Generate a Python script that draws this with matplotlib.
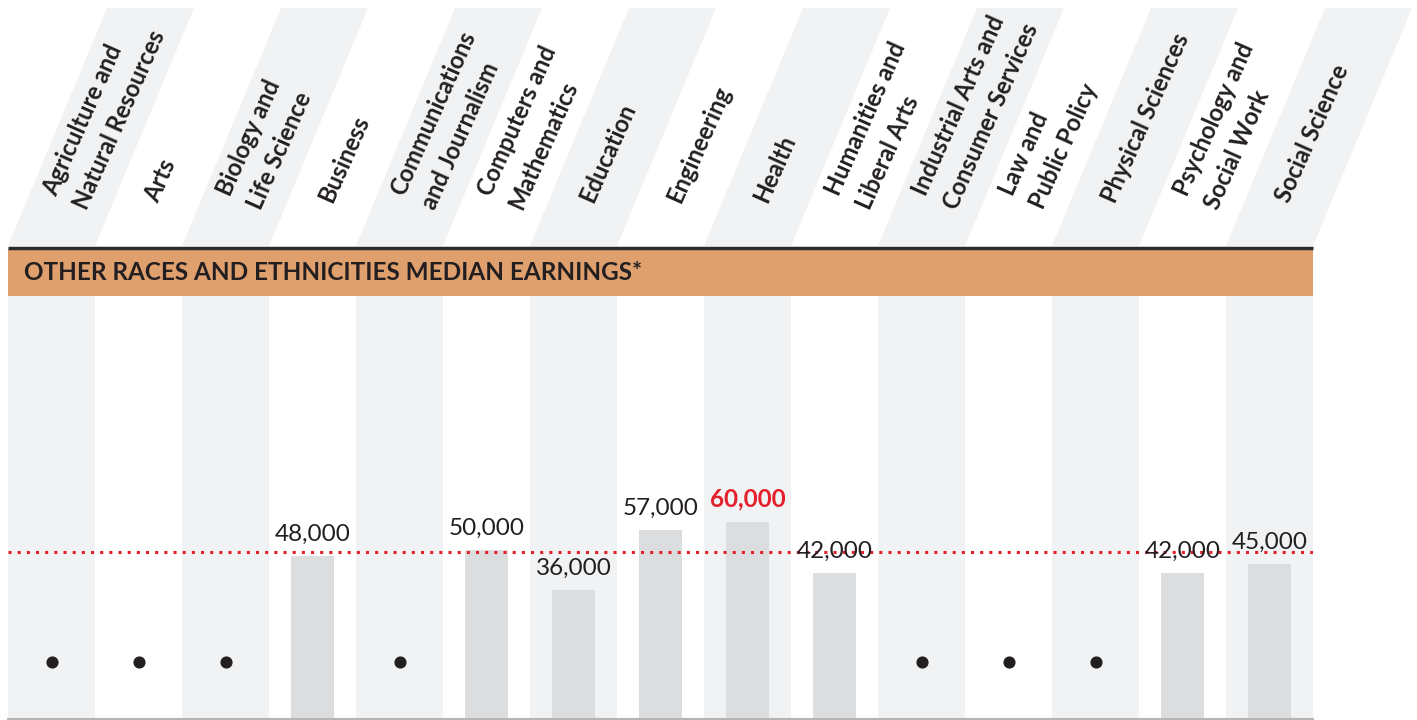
import numpy as np
import matplotlib
matplotlib.use("Agg")
import matplotlib.pyplot as plt
from matplotlib.patches import Polygon, Rectangle

plt.rcParams['font.family'] = ['Lato', 'DejaVu Sans']

# data
categories = [
    "Agriculture and\nNatural Resources", "Arts", "Biology and\nLife Science",
    "Business", "Communications\nand Journalism", "Computers and\nMathematics",
    "Education", "Engineering", "Health", "Humanities and\nLiberal Arts",
    "Industrial Arts and\nConsumer Services", "Law and\nPublic Policy",
    "Physical Sciences", "Psychology and\nSocial Work", "Social Science",
]
earnings = [np.nan, np.nan, np.nan, 48000, np.nan, 50000, 36000, 57000,
            60000, 42000, np.nan, np.nan, np.nan, 42000, 45000]
reference_line = 49300
title = "OTHER RACES AND ETHNICITIES MEDIAN EARNINGS*"

# styles
STRIPE = "#f1f2f3"
BAR = "#dcdddf"
ORANGE = "#e0a06e"
DARK = "#231f20"
RED = "#e3202b"

W, H = 1417, 720
fig = plt.figure(figsize=(W / 100, H / 100), dpi=100)

n = len(categories)
col_px = 87.0
left_px = 8.0
y_lo, y_hi = -9500, 139500
missing_y = 10600

# main bar area (below the orange band)
ax = fig.add_axes([left_px / W, 1 / H, n * col_px / W, (719 - 296) / H])
ax.set_xlim(0, n)
ax.set_ylim(y_lo, y_hi)
for i in range(0, n, 2):
    ax.axvspan(i, i + 1, color=STRIPE, lw=0, zorder=0)

vals = np.array(earnings, dtype=float)
x = np.arange(n) + 0.5
has = ~np.isnan(vals)
ax.bar(x[has], vals[has] - y_lo, bottom=y_lo, width=0.483, color=BAR, zorder=2)
ax.scatter(x[~has], np.full((~has).sum(), missing_y), s=60, color=DARK, zorder=3)

top = np.nanmax(vals)
for xi, v in zip(x[has], vals[has]):
    hi = v == top
    ax.annotate(f"{int(v):,}", (xi, v), xytext=(0, 11), textcoords="offset points",
                ha="center", va="baseline", fontsize=17.5,
                fontweight="bold" if hi else "normal",
                color=RED if hi else DARK, zorder=5)

ax.axhline(reference_line, color=RED, lw=2.2, ls=(0, (1, 2)), zorder=4)

for s in ["top", "left", "right"]:
    ax.spines[s].set_visible(False)
ax.spines["bottom"].set_color("#b5b5b5")
ax.spines["bottom"].set_linewidth(1.5)
ax.set_xticks([])
ax.set_yticks([])

# header overlay: x in column units, y in pixels from top
hd = fig.add_axes([0, 0, 1, 1], zorder=-1)
hd.set_xlim(-left_px / col_px, (W - left_px) / col_px)
hd.set_ylim(H, 0)
hd.axis("off")

slant = 99 / col_px
for i in range(0, n, 2):
    hd.add_patch(Polygon([(i, 246), (i + 1, 246), (i + 1 + slant, 8), (i + slant, 8)],
                         closed=True, color=STRIPE, lw=0))

for i, name in enumerate(categories):
    hd.text(i + 0.5 + 13 / col_px, 201, name, rotation=66, rotation_mode="anchor",
            ha="left", va="center", multialignment="left", fontsize=17,
            fontweight="bold", color=DARK, linespacing=1.55)

hd2 = fig.add_axes([0, 0, 1, 1], zorder=3)
hd2.set_xlim(hd.get_xlim())
hd2.set_ylim(H, 0)
hd2.axis("off")
hd2.add_patch(Rectangle((0, 248.5), n, 47.5, color=ORANGE, lw=0))
hd2.plot([0, n], [247.5, 247.5], color="#2b2b2b", lw=2.5, solid_capstyle="butt")
hd2.text(16 / col_px, 273, title, ha="left", va="center", fontsize=17.5,
         fontweight="bold", color=DARK)

fig.savefig("out.png", dpi=100, facecolor="white")
